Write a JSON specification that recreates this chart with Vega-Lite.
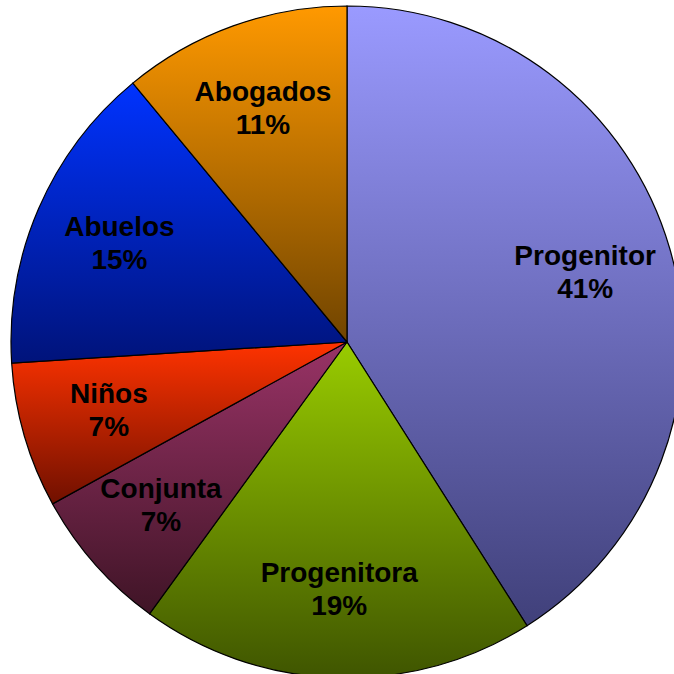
{
  "$schema": "https://vega.github.io/schema/vega-lite/v6.json",
  "width": 694,
  "height": 684,
  "padding": 0,
  "autosize": {"type": "none"},
  "background": "white",
  "view": {"stroke": null},
  "data": {
    "values": [
      {"orden": 1, "categoria": "Progenitor", "porcentaje": 41},
      {"orden": 2, "categoria": "Progenitora", "porcentaje": 19},
      {"orden": 3, "categoria": "Conjunta", "porcentaje": 7},
      {"orden": 4, "categoria": "Niños", "porcentaje": 7},
      {"orden": 5, "categoria": "Abuelos", "porcentaje": 15},
      {"orden": 6, "categoria": "Abogados", "porcentaje": 11}
    ]
  },
  "transform": [
    {"calculate": "datum.categoria + '\\n' + datum.porcentaje + '%'", "as": "etiqueta"}
  ],
  "encoding": {
    "theta": {"field": "porcentaje", "type": "quantitative", "stack": true},
    "order": {"field": "orden", "type": "quantitative"}
  },
  "layer": [
    {
      "mark": {"type": "arc", "radius": 336, "stroke": "#000000", "strokeWidth": 1.2, "filled": true},
      "encoding": {
        "fill": {
          "condition": [
            {"test": "datum.categoria === 'Progenitor'", "value": {"gradient": "linear", "x1": 0, "y1": 0, "x2": 0, "y2": 1, "stops": [{"offset": 0, "color": "#9A9AFF"}, {"offset": 1, "color": "#40407A"}]}},
            {"test": "datum.categoria === 'Progenitora'", "value": {"gradient": "linear", "x1": 0, "y1": 0, "x2": 0, "y2": 1, "stops": [{"offset": 0, "color": "#99CC00"}, {"offset": 1, "color": "#3F5500"}]}},
            {"test": "datum.categoria === 'Conjunta'", "value": {"gradient": "linear", "x1": 0, "y1": 0, "x2": 0, "y2": 1, "stops": [{"offset": 0, "color": "#993366"}, {"offset": 1, "color": "#3F1426"}]}},
            {"test": "datum.categoria === 'Niños'", "value": {"gradient": "linear", "x1": 0, "y1": 0, "x2": 0, "y2": 1, "stops": [{"offset": 0, "color": "#FF3300"}, {"offset": 1, "color": "#701000"}]}},
            {"test": "datum.categoria === 'Abuelos'", "value": {"gradient": "linear", "x1": 0, "y1": 0, "x2": 0, "y2": 1, "stops": [{"offset": 0, "color": "#0033FF"}, {"offset": 1, "color": "#00137A"}]}}
          ],
          "value": {"gradient": "linear", "x1": 0, "y1": 0, "x2": 0, "y2": 1, "stops": [{"offset": 0, "color": "#FF9900"}, {"offset": 1, "color": "#704400"}]}
        }
      }
    },
    {
      "mark": {"type": "text", "radius": 248, "dy": -16, "font": "Liberation Sans", "fontSize": 28, "fontWeight": "bold", "color": "#000000", "align": "center", "baseline": "middle", "lineBreak": "\n", "lineHeight": 33},
      "encoding": {
        "text": {"field": "etiqueta", "type": "nominal"}
      }
    }
  ]
}
